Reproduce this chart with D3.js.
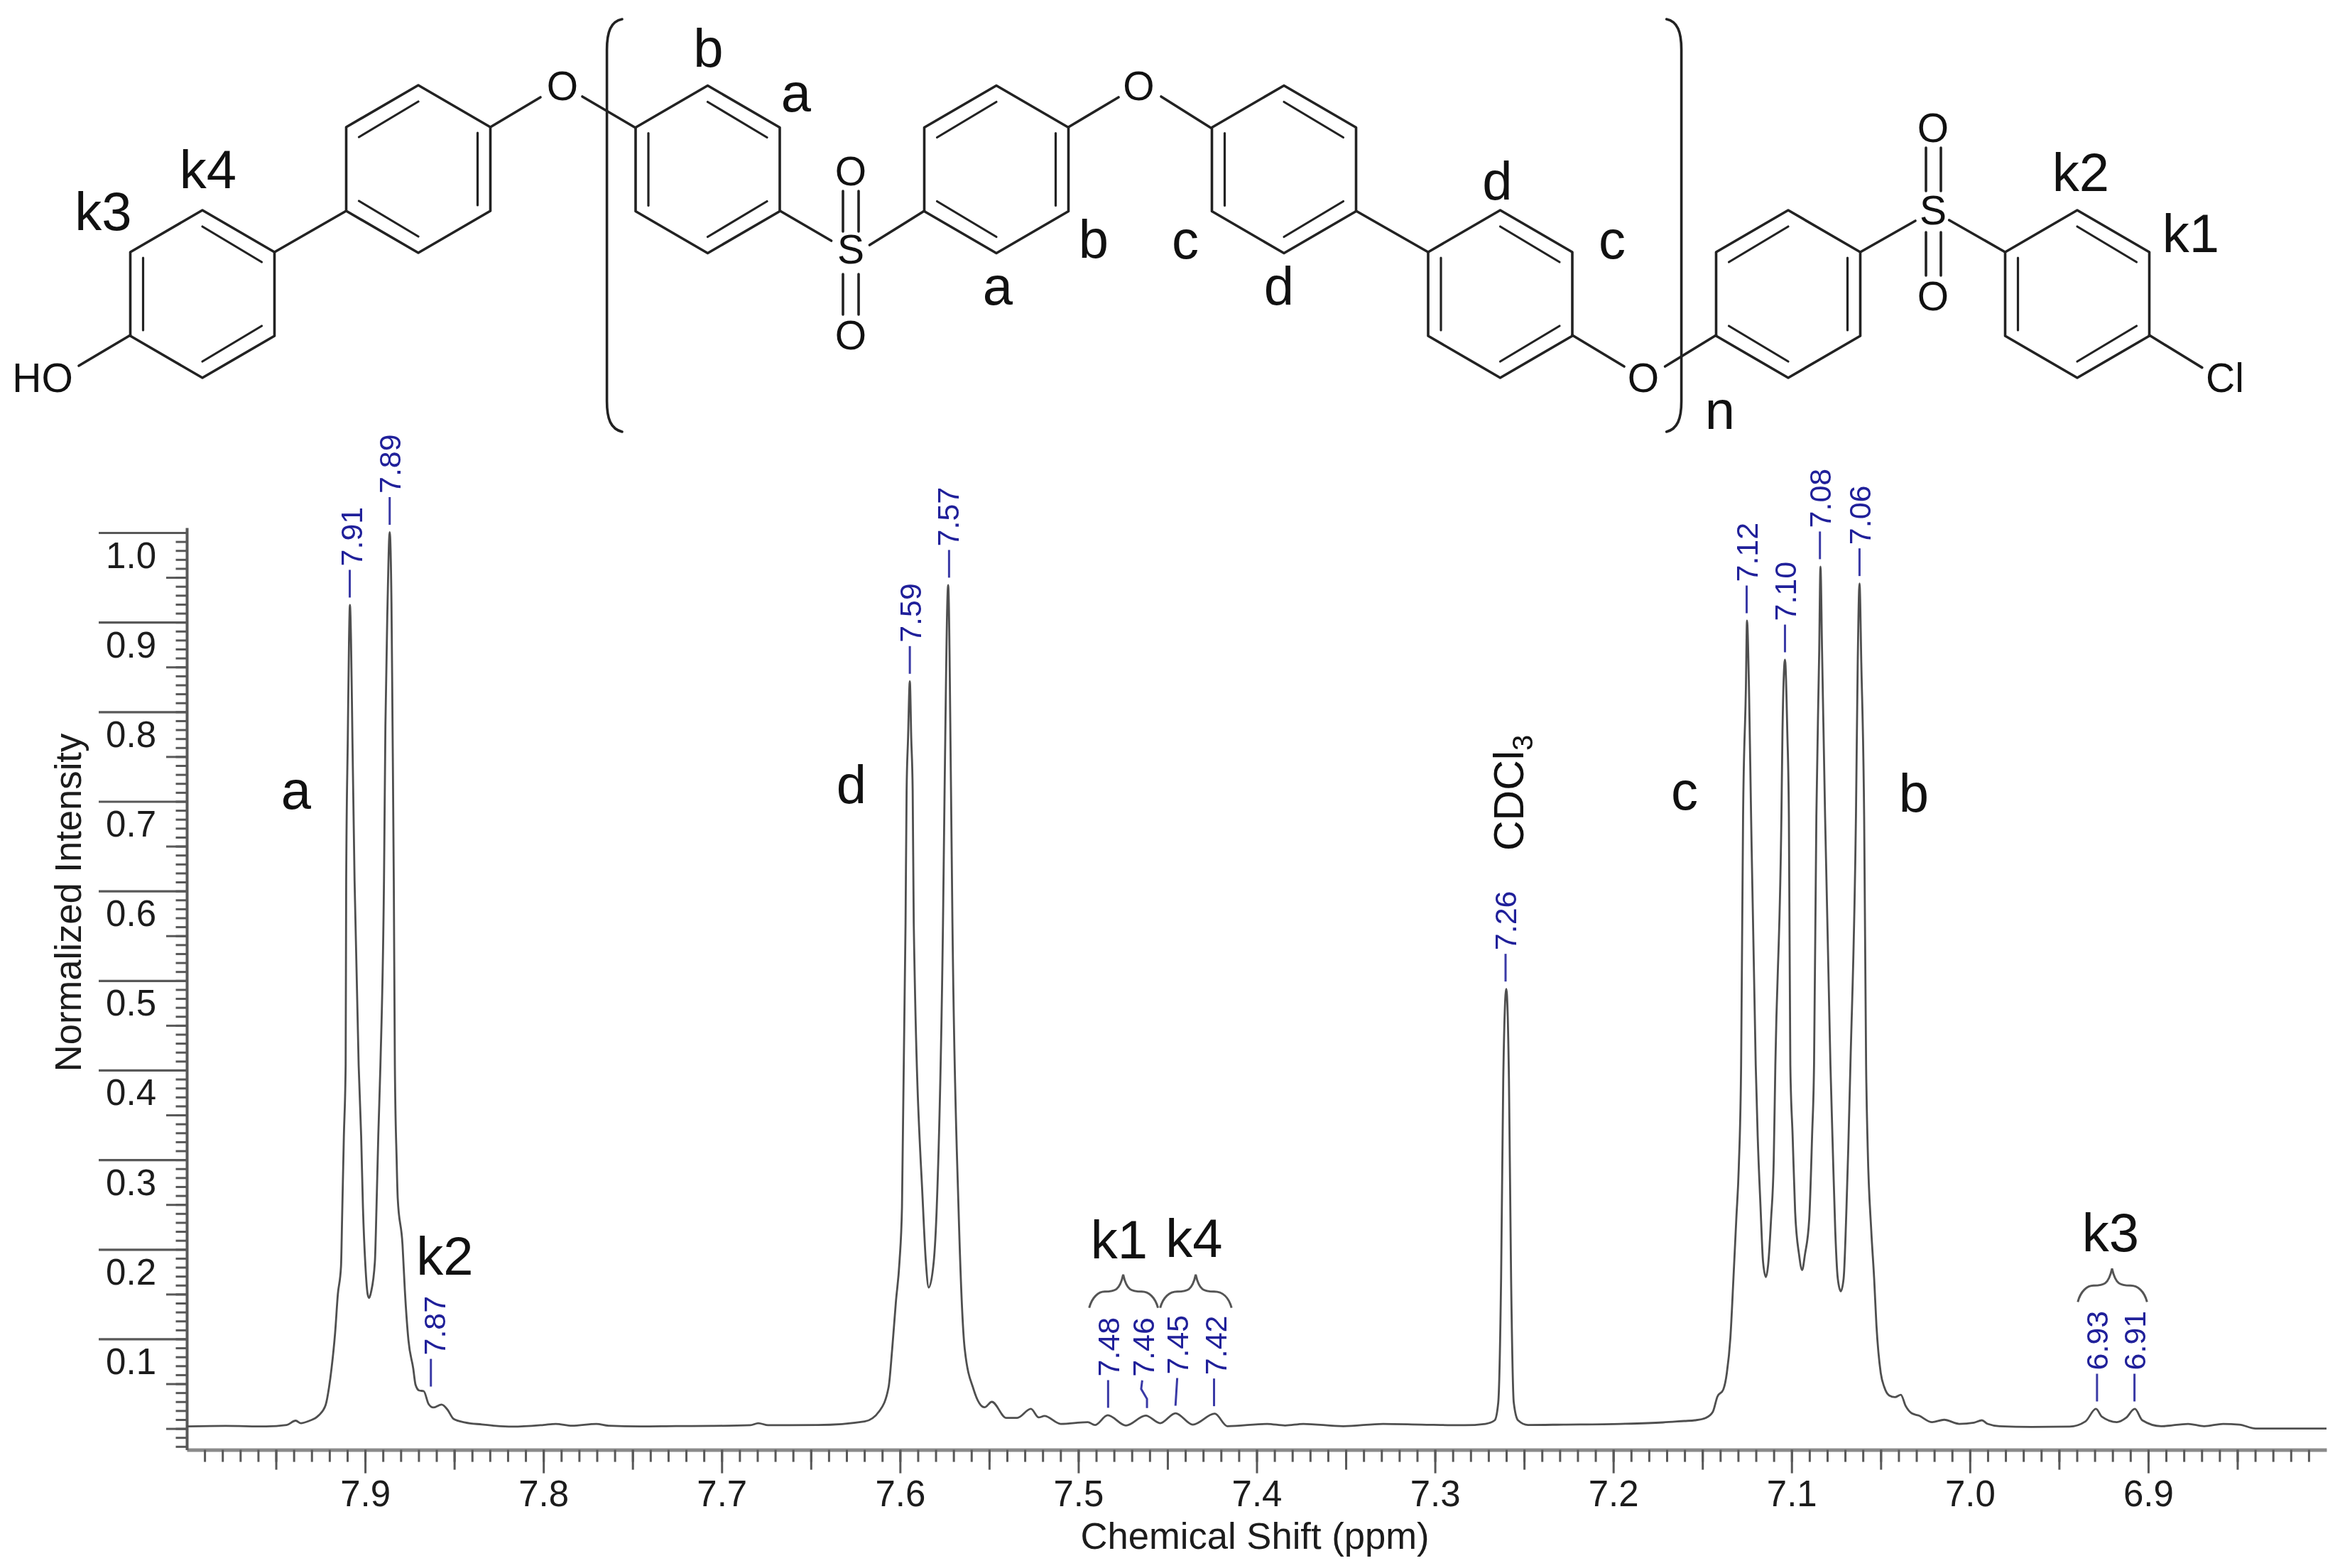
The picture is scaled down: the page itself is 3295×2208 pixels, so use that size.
<!DOCTYPE html>
<html>
<head>
<meta charset="utf-8">
<script src="https://cdn.jsdelivr.net/npm/d3@7/dist/d3.min.js"></script>
<style>
html,body{margin:0;padding:0;background:#fff;}
svg{display:block;filter:blur(0.7px);}
text{font-family:"Liberation Sans",Arial,sans-serif;}
</style>
</head>
<body>
<svg id="chart" width="3295" height="2208" viewBox="0 0 3295 2208"></svg>
<script>
// ---------- data ----------
const specPpm = [
 8.0000,7.9783,7.9555,7.9440,7.9389,7.9360,7.9315,7.9261,7.9221,7.9202,7.9188,7.9168,7.9153,7.9135,7.9129,7.9119,7.9109,7.9106,7.9097,7.9090,7.9085,7.9079,7.9071,7.9059,7.9036,7.9022,7.9012,7.8998,7.8985,7.8977,7.8967,7.8945,7.8936,7.8926,7.8914,7.8894,7.8886,7.8874,7.8862,7.8852,7.8846,7.8839,7.8833,7.8823,7.8817,7.8790,7.8777,7.8757,7.8730,7.8717,7.8697,7.8671,7.8644,7.8618,7.8571,7.8538,7.8504,7.8438,7.8345,7.8266,7.8173,
 7.8000,7.7931,7.7840,7.7703,7.7635,7.7456,7.7257,7.7058,7.6839,7.6795,7.6739,7.6460,7.6198,7.6115,7.6064,7.6044,7.6023,7.6003,7.5989,7.5969,7.5963,7.5955,7.5945,7.5937,7.5929,7.5923,7.5871,7.5855,7.5839,7.5811,7.5794,7.5759,7.5750,7.5730,7.5714,7.5706,7.5672,7.5637,7.5587,7.5526,7.5485,7.5404,7.5343,7.5266,7.5222,7.5190,7.5099,
 7.4947,7.4907,7.4835,7.4733,7.4622,7.4541,7.4455,7.4358,7.4235,7.4164,7.3941,7.3840,7.3738,7.3514,7.3291,7.3075,7.2836,7.2717,7.2665,7.2645,7.2629,7.2617,7.2600,7.2585,7.2573,7.2558,7.2534,7.2478,7.2279,7.1960,7.1721,7.1602,7.1542,
 7.1482,7.1442,7.1416,7.1383,7.1363,7.1343,7.1326,7.1310,7.1296,7.1283,7.1272,7.1256,7.1250,7.1239,7.1227,7.1201,7.1190,7.1174,7.1160,7.1144,7.1131,7.1115,7.1100,7.1091,7.1057,7.1051,7.1037,7.1024,7.1015,7.1007,7.0994,7.0980,7.0958,7.0941,7.0925,7.0901,7.0885,7.0874,7.0861,7.0845,7.0838,7.0829,7.0812,7.0782,7.0769,7.0755,7.0741,7.0724,7.0708,7.0692,7.0682,7.0670,7.0639,7.0629,7.0619,7.0609,7.0593,7.0582,7.0573,7.0553,7.0537,7.0524,7.0500,7.0480,7.0453,7.0420,7.0387,7.0360,7.0327,7.0287,
 7.0212,7.0144,7.0060,6.9977,6.9933,6.9901,6.9833,6.9654,6.9441,6.9352,6.9293,6.9260,6.9176,6.9125,6.9075,6.9033,6.8927,6.8776,6.8686,6.8580,6.8489,6.8398,6.8000];
const specIntensity = [
 .0023,.0029,.0023,.0040,.0088,.0060,.0084,.0145,.0264,.0462,.0673,.1070,.1493,.1810,.2338,.3263,.4055,.6116,.7701,.8811,.9192,.8811,.7701,.6116,.4055,.3263,.2470,.1810,.1493,.1458,.1519,.1862,.2470,.3263,.4055,.6116,.7844,.9208,1.0004,.9208,.7844,.6116,.4055,.3001,.2573,.2050,.1543,.0988,.0671,.0488,.0425,.0417,.0274,.0235,.0267,.0211,.0108,.0068,.0045,.0029,.0021,
 .0040,.0052,.0032,.0052,.0032,.0023,.0027,.0029,.0037,.0060,.0037,.0039,.0079,.0197,.0462,.0885,.1416,.1860,.2470,.5641,.7123,.7701,.8341,.7701,.7123,.5641,.2470,.1860,.1574,.1860,.2470,.5641,.7123,.9414,.7123,.5641,.2470,.0885,.0435,.0237,.0298,.0118,.0118,.0219,.0124,.0140,.0052,
 .0071,.0039,.0148,.0034,.0145,.0060,.0171,.0044,.0166,.0026,.0052,.0034,.0052,.0026,.0052,.0044,.0037,.0052,.0092,.0290,.1677,.3897,.4906,.3897,.1677,.0290,.0092,.0040,.0044,.0052,.0068,.0084,.0092,
 .0118,.0185,.0356,.0435,.0621,.1017,.1677,.2338,.2920,.4055,.6830,.8280,.9017,.8280,.6830,.4055,.3263,.2470,.1862,.1691,.1836,.2338,.2999,.4055,.6830,.7781,.8581,.7781,.6830,.4055,.3263,.2417,.1942,.1770,.1942,.2338,.3263,.4055,.6830,.8676,.9620,.8676,.6830,.4055,.3131,.2206,.1677,.1532,.1677,.2470,.3131,.4055,.6830,.8550,.9432,.8550,.6830,.4055,.3131,.2206,.1677,.1149,.0621,.0462,.0370,.0351,.0377,.0251,.0171,.0145,
 .0071,.0098,.0052,.0066,.0092,.0052,.0026,.0018,.0021,.0079,.0219,.0132,.0071,.0118,.0219,.0092,.0026,.0052,.0026,.0052,.0044,.0000,.0000];

const peakLabels    = ["7.91","7.89","7.87","7.59","7.57","7.48","7.46","7.45","7.42","7.26","7.12","7.10","7.08","7.06","6.93","6.91"];
const peakPpm       = [7.9086,7.8862,7.8631,7.5945,7.5725,7.4833,7.4615,7.4455,7.4239,7.2604,7.1252,7.1037,7.0841,7.0619,6.9287,6.9077];
const peakIntensity = [.9192,1.0004,.0385,.8341,.9414,.0148,.0145,.0171,.0166,.4906,.9017,.8581,.9620,.9432,.0219,.0219];

const xMajorTicks = [7.9,7.8,7.7,7.6,7.5,7.4,7.3,7.2,7.1,7.0,6.9];
const xMidTicks   = [7.95,7.85,7.75,7.65,7.55,7.45,7.35,7.25,7.15,7.05,6.95,6.85];
const yMajorTicks = [1.0,0.9,0.8,0.7,0.6,0.5,0.4,0.3,0.2,0.1];
const yMidTicks   = [0.95,0.85,0.75,0.65,0.55,0.45,0.35,0.25,0.15,0.05,0.0];

const xTitle = "Chemical Shift (ppm)";
const yTitle = "Normalized Intensity";

// ---------- scales ----------
const svg = d3.select("#chart");
const X0 = 263, X1 = 3276, Y0 = 2041.6, Y1 = 743;
const x = d3.scaleLinear().domain([8.0, 6.8]).range([X0, X1]);
const y = d3.scaleLinear().domain([-0.02378, 1.00555]).range([Y0, Y1]);

const axisCol = "#585858", inkCol = "#1c1c1c", blue = "#20209a";

// ---------- axes ----------
function tune(g, w){
  g.selectAll("path,line").attr("stroke", axisCol).attr("stroke-width", w);
}
const xMinor = d3.range(681, 800).map(d => d/100);
const yMinor = d3.range(-2, 101).map(d => d/100);

svg.append("g").attr("transform",`translate(0,${Y0})`)
  .call(d3.axisBottom(x).tickValues(xMinor).tickSize(17).tickSizeOuter(0).tickFormat(""))
  .call(g=>tune(g,3)).call(g=>g.select(".domain").attr("stroke-width",5).attr("stroke","#8a8a8a"));
svg.append("g").attr("transform",`translate(0,${Y0})`)
  .call(d3.axisBottom(x).tickValues(xMidTicks).tickSize(28).tickSizeOuter(0).tickFormat(""))
  .call(g=>tune(g,3)).call(g=>g.select(".domain").remove());
svg.append("g").attr("transform",`translate(0,${Y0})`)
  .call(d3.axisBottom(x).tickValues(xMajorTicks).tickSize(33).tickSizeOuter(0).tickFormat(d3.format(".1f")))
  .call(g=>tune(g,3)).call(g=>g.select(".domain").remove())
  .call(g=>g.selectAll("text").attr("y",79.5).attr("dy",0)
     .attr("font-size",51).attr("fill",inkCol).attr("font-family",null));

svg.append("g").attr("transform",`translate(${X0},0)`)
  .call(d3.axisLeft(y).tickValues(yMinor).tickSize(15.5).tickSizeOuter(0).tickFormat(""))
  .call(g=>tune(g,3)).call(g=>g.select(".domain").attr("stroke-width",4));
svg.append("g").attr("transform",`translate(${X0},0)`)
  .call(d3.axisLeft(y).tickValues(yMidTicks).tickSize(29).tickSizeOuter(0).tickFormat(""))
  .call(g=>tune(g,3)).call(g=>g.select(".domain").remove());
svg.append("g").attr("transform",`translate(${X0},0)`)
  .call(d3.axisLeft(y).tickValues(yMajorTicks).tickSize(124).tickSizeOuter(0).tickFormat(d3.format(".1f")))
  .call(g=>tune(g,3.2)).call(g=>g.select(".domain").remove())
  .call(g=>g.selectAll("text").attr("x",-43).attr("dy",49)
     .attr("text-anchor","end").attr("font-size",51).attr("fill",inkCol).attr("font-family",null));

// axis titles
svg.append("text").attr("x",1767).attr("y",2181).attr("text-anchor","middle")
  .attr("font-size",52.6).attr("fill",inkCol).text(xTitle);
svg.append("text").attr("transform","translate(114,1271) rotate(-90)").attr("text-anchor","middle")
  .attr("font-size",52.6).attr("fill",inkCol).text(yTitle);

// ---------- spectrum ----------
const line = d3.line().x(i=>x(specPpm[i])).y(i=>y(specIntensity[i])).curve(d3.curveMonotoneX);
svg.append("path").attr("d", line(d3.range(specPpm.length)))
  .attr("fill","none").attr("stroke","#4f4f4f").attr("stroke-width",2.8).attr("stroke-linejoin","round");

// ---------- peak picks ----------
const leanTop = {"7.46":-6.7,"7.45":2.4};
const textOff = {"7.87":5,"7.46":-6,"7.45":2.4,"7.91":2,"7.42":2.4,"7.59":0.5,"7.57":-1.5};
const picks = svg.append("g");
peakLabels.forEach((lab,i)=>{
  const px = x(peakPpm[i]), bottom = y(peakIntensity[i]) - 10.5, top = bottom - 39;
  const lean = leanTop[lab] || 0;
  const d = lab==="7.46"
     ? `M${px+lean},${top} L${px+lean-1.5},${top+12} L${px},${top+26} L${px},${bottom}`
     : `M${px+lean},${top} L${px},${bottom}`;
  picks.append("path").attr("d",d).attr("fill","none").attr("stroke","#3a3aa6").attr("stroke-width",3);
  picks.append("text")
    .attr("transform",`translate(${px+(textOff[lab]||0)},${top-5}) rotate(-90)`)
    .attr("dy","0.36em").attr("font-size",43).attr("fill",blue).text(lab);
});

// ---------- annotations on the spectrum ----------
function lbl(t,cx,base,size,anchor){
  return svg.append("text").attr("x",cx).attr("y",base).attr("text-anchor",anchor||"middle")
    .attr("font-size",size||76).attr("fill","#111").text(t);
}
[["a",417,1139],["d",1199,1131],["c",2372,1140],["b",2695,1143],
 ["k2",626.5,1795],["k1",1576,1771.7],["k4",1681.5,1770],["k3",2972,1761.7]]
 .forEach(d=>lbl(d[0],d[1],d[2]));

const cdcl = svg.append("text").attr("transform","translate(2145,1198) rotate(-90)")
  .attr("font-size",59).attr("fill","#111");
cdcl.append("tspan").text("CDCl");
cdcl.append("tspan").attr("font-size",40).attr("dy",13).text("3");

function brace(x0,x1,tip,yE){
  const yS=yE-23,yT=yE-47;
  return `M${x0},${yE} C${x0+4},${yE-15} ${x0+13},${yS} ${tip-26},${yS} C${tip-12},${yS} ${tip-5},${yS-1} ${tip},${yT} `+
         `C${tip+5},${yS-1} ${tip+12},${yS} ${tip+26},${yS} C${x1-13},${yS} ${x1-4},${yE-15} ${x1},${yE}`;
}
[[1533.7,1630.6,1581.6,1841.7],[1633.7,1734.2,1683.7,1841.7],[2925.8,3023.3,2974,1833.3]]
 .forEach(b=>svg.append("path").attr("d",brace(...b)).attr("fill","none").attr("stroke","#555").attr("stroke-width",3));

// ---------- chemical structure ----------
const mol = svg.append("g").attr("fill","none").attr("stroke","#222").attr("stroke-width",3.6)
  .attr("stroke-linecap","round").attr("stroke-linejoin","round");
const RX=101.5, RT=118, RS=59;
function ring(cx,cy,setA){
  const v=[[cx,cy-RT],[cx+RX,cy-RS],[cx+RX,cy+RS],[cx,cy+RT],[cx-RX,cy+RS],[cx-RX,cy-RS]];
  mol.append("path").attr("d","M"+v.join("L")+"Z");
  const ix=RX-18, it=RT-23, is=RS-14, ivs=RS-8;
  const inner = setA
    ? [[[cx,cy-it],[cx+ix,cy-is]],[[cx-ix,cy-ivs],[cx-ix,cy+ivs]],[[cx+ix,cy+is],[cx,cy+it]]]
    : [[[cx,cy-it],[cx-ix,cy-is]],[[cx+ix,cy-ivs],[cx+ix,cy+ivs]],[[cx-ix,cy+is],[cx,cy+it]]];
  inner.forEach(s=>mol.append("path").attr("d","M"+s.join("L")).attr("stroke-width",3.2));
}
ring(285,414,true); ring(589,238,false); ring(996.5,238.5,true); ring(1403,238.5,false);
ring(1808,238.5,true); ring(2112.5,414,true); ring(2518,414,false); ring(2925,414,true);

[[[183.5,472],[111,515]],[[386.5,355],[487.5,297]],[[690.5,179],[761,137]],[[820,136],[895,180]],
 [[1098.5,297],[1170.6,339]],[[1224.5,345],[1301.5,297]],[[1504.5,179],[1575,137]],[[1635,136],[1705,180]],
 [[1909.5,297],[2011,355]],[[2214,472],[2287,516]],[[2344.6,516],[2416.5,472]],
 [[2619.5,355],[2697,311]],[[2744.7,310],[2823.5,355]],[[3026.5,472],[3100.8,517.6]],
 [[1187,269],[1187,326]],[[1209,269],[1209,326]],[[1187,386],[1187,443]],[[1209,386],[1209,443]],
 [[2712,208],[2712,269]],[[2733,208],[2733,269]],[[2712,327],[2712,388]],[[2733,327],[2733,388]]]
 .forEach(s=>mol.append("path").attr("d","M"+s.join("L")));

mol.append("path").attr("d","M876,27 C860,30 854.6,45 854.6,70 L854.6,565 C854.6,590 860,604 876,608");
mol.append("path").attr("d","M2346.7,27 C2362,30 2367.6,45 2367.6,70 L2367.6,565 C2367.6,590 2362,604 2346.7,608");

// atoms
[["O",792,141],["O",1603.5,141],["O",2314,552],["O",1198,261],["O",1198,492],["S",1198,371],
 ["O",2722,200],["O",2722,437],["S",2722,316]].forEach(d=>lbl(d[0],d[1],d[2],57));
lbl("HO",60,552,57);
lbl("Cl",3106,552,57,"start");

// structure assignment labels
[["k3",145.5,324],["k4",293,265],["b",997.5,94],["a",1121,157],
 ["b",1540,363],["c",1669,364],["a",1405,428.6],["d",1801,428.6],["d",2108.5,281],["c",2270,364],
 ["k2",2930,269],["k1",3085,355],["n",2422,604]].forEach(d=>lbl(d[0],d[1],d[2]));
</script>
</body>
</html>
